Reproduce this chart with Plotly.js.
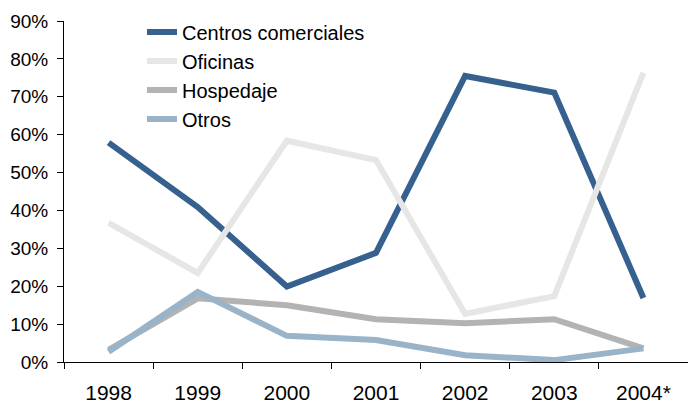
<!DOCTYPE html>
<html>
<head>
<meta charset="utf-8">
<script src="https://cdn.plot.ly/plotly-3.0.1.min.js"></script>
<style>html,body{margin:0;padding:0;background:#fff;}#chart{width:688px;height:403px;}</style>
</head>
<body>
<div id="chart"></div>
<script>
const years = ["1998", "1999", "2000", "2001", "2002", "2003", "2004*"];
const seriesNames = ["Centros comerciales", "Oficinas", "Hospedaje", "Otros"];
const centrosComerciales = [57.9, 40.9, 19.9, 28.8, 75.5, 71.1, 16.9];
const oficinas = [36.7, 23.5, 58.4, 53.3, 12.7, 17.4, 76.4];
const hospedaje = [3.2, 16.8, 15.0, 11.3, 10.2, 11.3, 3.6];
const otros = [2.7, 18.5, 6.9, 5.8, 1.8, 0.5, 3.6];
const yTickVals = [0, 10, 20, 30, 40, 50, 60, 70, 80, 90];
const yTickText = ["0%", "10%", "20%", "30%", "40%", "50%", "60%", "70%", "80%", "90%"];

const colors = ["#36618e", "#e6e6e6", "#b3b3b3", "#99b3c9"];
const values = [centrosComerciales, oficinas, hospedaje, otros];

const traces = values.map((v, i) => ({
  type: "scatter",
  mode: "lines",
  x: years,
  y: v,
  name: seriesNames[i],
  line: { color: colors[i], width: 6 },
  hoverinfo: "x+y+name"
}));

const layout = {
  width: 688,
  height: 403,
  margin: { l: 64, r: 0, t: 21, b: 41, pad: 0 },
  paper_bgcolor: "#ffffff",
  plot_bgcolor: "#ffffff",
  font: { family: "Liberation Sans, Arial, sans-serif", color: "#000000" },
  showlegend: true,
  legend: {
    x: 0.125, y: 1.025, xanchor: "left", yanchor: "top",
    font: { size: 20, color: "#000000" },
    bgcolor: "rgba(0,0,0,0)",
    itemwidth: 30,
    tracegroupgap: 0
  },
  xaxis: {
    type: "category",
    range: [-0.5, 6.5],
    showgrid: false,
    zeroline: false,
    showline: true,
    linecolor: "#000000",
    linewidth: 1,
    ticks: "outside",
    tickson: "boundaries",
    ticklen: 6,
    tickcolor: "#000000",
    tickfont: { size: 21, color: "#000000" },
    ticklabelstandoff: 12,
    fixedrange: true
  },
  yaxis: {
    range: [0, 90],
    tickvals: yTickVals,
    ticktext: yTickText,
    showgrid: false,
    zeroline: false,
    showline: true,
    linecolor: "#000000",
    linewidth: 1,
    ticks: "outside",
    ticklen: 6,
    tickcolor: "#000000",
    tickfont: { size: 19, color: "#000000" },
    ticklabelstandoff: 5,
    fixedrange: true
  }
};

Plotly.newPlot("chart", traces, layout, { displayModeBar: false, staticPlot: true });
</script>
</body>
</html>
